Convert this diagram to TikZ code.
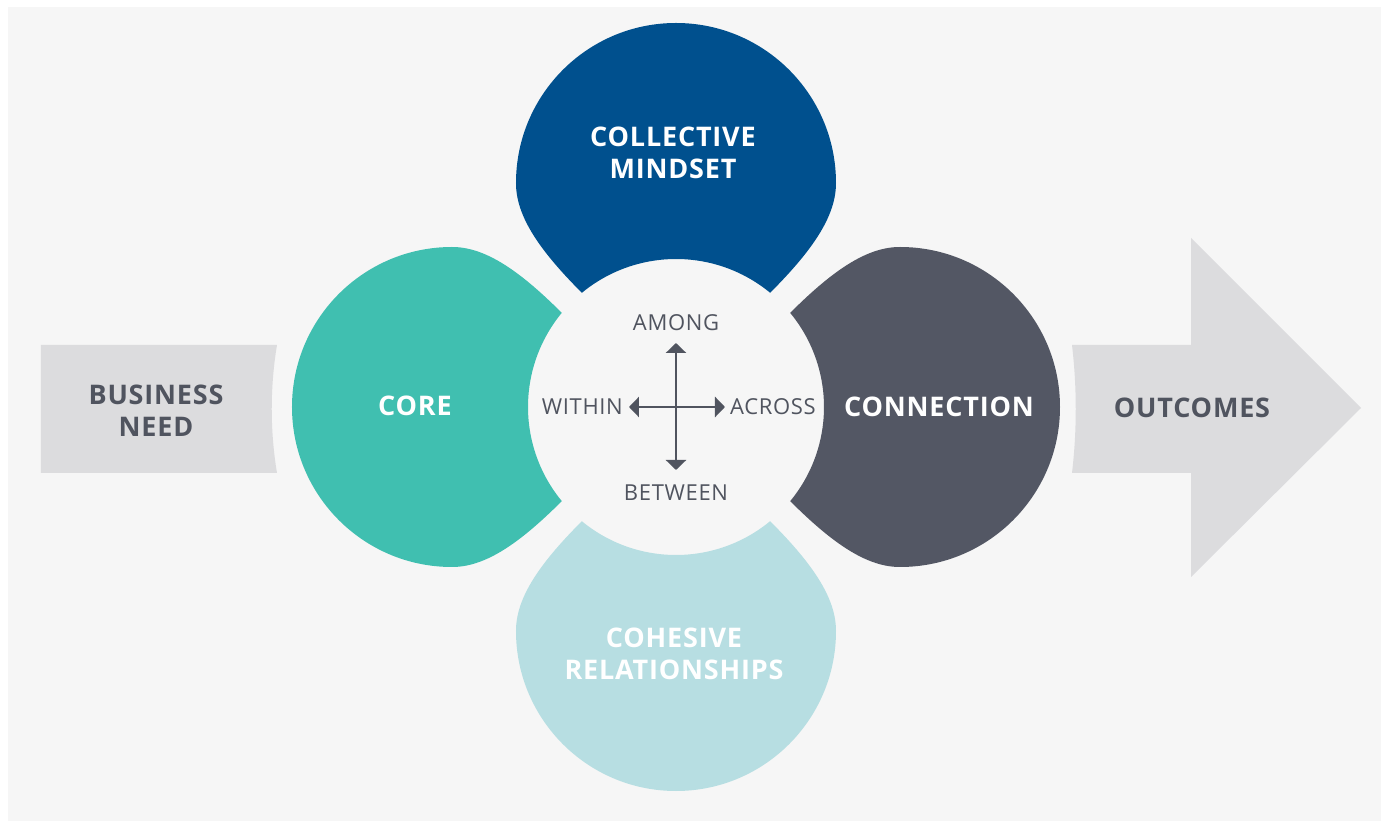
\documentclass[tikz,border=0pt]{standalone}
\usepackage{fontspec}
\setmainfont[LetterSpace=3]{Open Sans}
\usetikzlibrary{arrows.meta,positioning}

\definecolor{pagebg}{HTML}{F6F6F6}
\definecolor{boxgray}{HTML}{DCDCDE}
\definecolor{inkgray}{HTML}{50545F}
\definecolor{mindblue}{HTML}{00508E}
\definecolor{coreteal}{HTML}{40BFB0}
\definecolor{conngray}{HTML}{535764}
\definecolor{cohlight}{HTML}{B7DEE2}

\tikzset{
  petaltext/.style={text=white, align=center, inner sep=0pt,
    font=\fontsize{27}{32}\selectfont\bfseries},
  sidetext/.style={text=inkgray, align=center, inner sep=0pt,
    font=\fontsize{27}{32}\selectfont\bfseries},
  dirtext/.style={text=inkgray, inner sep=0pt,
    font=\fontsize{22}{26}\selectfont},
  cross/.style={draw=inkgray, line width=2.8pt,
    {Triangle[width=20pt,length=10pt]}-{Triangle[width=20pt,length=10pt]}}
}

\begin{document}
\begin{tikzpicture}[x=1pt,y=1pt]
    \useasboundingbox (-676,-414) rectangle (708,407);
    \fill[white] (-676,-414) rectangle (708,407);
    \fill[pagebg] (-668,-414) rectangle (705,400);

    % in and out
    \fill[boxgray] (-635,62) -- (-399,62) .. controls (-406,20) and (-406,-24) .. (-399,-66) -- (-635,-66) -- cycle;
    \fill[boxgray] (396,62) -- (515,62) -- (515,169) -- (685,-1) -- (515,-170) -- (515,-66) -- (396,-66)
        .. controls (401,-24) and (401,20) .. (396,62) -- cycle;

    % petals, one per side of the hub
    \foreach \ang/\col in {0/mindblue,90/coreteal,180/cohlight,270/conngray}
        \fill[\col,rotate=\ang] (94.1,114.2) .. controls (140,160) and (160,193) .. (160,224)
            arc[start angle=0,end angle=180,radius=160]
            .. controls (-160,193) and (-140,160) .. (-94.1,114.2)
            arc[start angle=129.5,end angle=50.5,radius=148] -- cycle;

    \node[circle,minimum size=296pt,inner sep=0pt] (hub) at (0,0) {};

    \node[petaltext] (mindset) at (-3,254) {COLLECTIVE\\MINDSET};
    \node[petaltext] (core) at (-261,1) {CORE};
    \node[petaltext] (connection) at (263,0) {CONNECTION};
    \node[petaltext] (cohesive) at (-2,-247) {COHESIVE\\RELATIONSHIPS};
    \node[sidetext] (need) at (-520,-4) {BUSINESS\\NEED};
    \node[sidetext] (outcomes) at (516,-1) {OUTCOMES};

    \node[dirtext,above=76pt of hub.center] (among) {AMONG};
    \node[dirtext,below=78pt of hub.center] (between) {BETWEEN};
    \node[dirtext,left=53pt of hub.center] (within) {WITHIN};
    \node[dirtext,right=54pt of hub.center] (across) {ACROSS};

    \coordinate[above=64pt of hub.center] (upTip);
    \coordinate[below=63pt of hub.center] (downTip);
    \coordinate[left=47pt of hub.center] (leftTip);
    \coordinate[right=49pt of hub.center] (rightTip);
    \draw[cross] (upTip) -- (downTip);
    \draw[cross] (leftTip) -- (rightTip);
\end{tikzpicture}
\end{document}
